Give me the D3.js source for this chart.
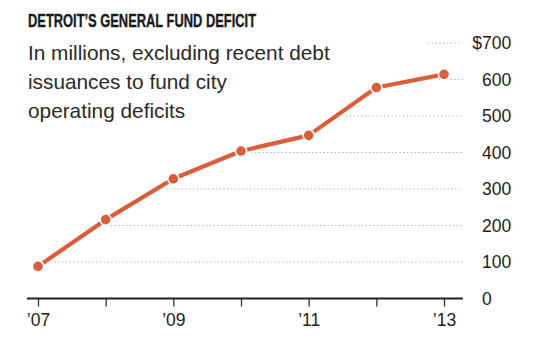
<!DOCTYPE html>
<html>
<head>
<meta charset="utf-8">
<script src="https://cdn.jsdelivr.net/npm/d3@7"></script>
<style>
  html, body { margin: 0; padding: 0; background: #fff; }
  svg { display: block; }
  text { font-family: "Liberation Sans", Arial, sans-serif; fill: #222; }
</style>
</head>
<body>
<svg id="chart" width="538" height="346"></svg>
<script>
// ---- data ----
const years = [2007, 2008, 2009, 2010, 2011, 2012, 2013];
const deficit = [88, 216, 328, 404, 447, 578, 614];
const yTicks = [0, 100, 200, 300, 400, 500, 600, 700];
const xLabelYears = [2007, 2009, 2011, 2013];
const title = "DETROIT’S GENERAL FUND DEFICIT";
const subtitle = ["In millions, excluding recent debt", "issuances to fund city", "operating deficits"];

const W = 538, H = 346;
const svg = d3.select("#chart");
const data = years.map((y, i) => ({ year: y, value: deficit[i] }));

const x = d3.scaleLinear().domain([2007, 2013]).range([38, 444]);
const y = d3.scaleLinear().domain([0, 700]).range([298.5, 43]);
const axisLeft = 27, axisRight = 463;
const orange = "#d95f3b";

// title
svg.append("text")
  .attr("x", 28).attr("y", 26.5)
  .attr("font-size", 17.8).attr("font-weight", "bold")
  .attr("textLength", 228).attr("lengthAdjust", "spacingAndGlyphs")
  .style("fill", "#1a1a1a").style("stroke", "#1a1a1a").style("stroke-width", 0.35)
  .text(title);

// subtitle
svg.append("g").selectAll("text").data(subtitle).join("text")
  .attr("x", 28).attr("y", (d, i) => 60 + i * 29)
  .attr("font-size", 20.8)
  .style("fill", "#2a2a2a")
  .text(d => d);

// gridlines start where the line passes (or at the left edge / near the end)
function crossX(v) {
  if (v <= data[0].value) return axisLeft;
  for (let i = 1; i < data.length; i++) {
    const a = data[i - 1], b = data[i];
    if (v >= a.value && v <= b.value) {
      const t = (v - a.value) / (b.value - a.value);
      return x(a.year + t * (b.year - a.year)) + 10;
    }
  }
  return x(years[years.length - 1]) - 16;
}
svg.append("g").selectAll("line").data(yTicks.filter(d => d > 0)).join("line")
  .attr("x1", d => crossX(d)).attr("x2", axisRight)
  .attr("y1", d => y(d)).attr("y2", d => y(d))
  .attr("stroke", "#a9a9a9").attr("stroke-width", 1.2)
  .attr("stroke-dasharray", "1.2,2.6");

// y labels
const yl = svg.append("g");
yl.selectAll("text").data(yTicks).join("text")
  .attr("x", 482).attr("y", d => y(d)).attr("dy", "0.36em")
  .attr("font-size", 17.5)
  .text(d => d);
yl.append("text")
  .attr("x", 482).attr("y", y(yTicks[yTicks.length - 1])).attr("dy", "0.36em")
  .attr("font-size", 17.5).attr("text-anchor", "end")
  .text("$");

// x axis
const xAxis = d3.axisBottom(x)
  .tickValues(years)
  .tickSize(8)
  .tickPadding(7)
  .tickFormat(d => xLabelYears.includes(d) ? "’" + String(d).slice(2) : "");
const gx = svg.append("g").attr("transform", `translate(0,${y(0)})`).call(xAxis);
gx.select(".domain").remove();
gx.selectAll(".tick line").attr("stroke", "#333").attr("stroke-width", 1.3);
gx.selectAll(".tick text").attr("font-size", 17.5).style("fill", "#222")
  .style("font-family", "'Liberation Sans', Arial, sans-serif");
gx.append("line").attr("x1", axisLeft).attr("x2", axisRight)
  .attr("y1", 0).attr("y2", 0).attr("stroke", "#222").attr("stroke-width", 2.2);

// line with white halo
const line = d3.line().x(d => x(d.year)).y(d => y(d.value));
svg.append("path").datum(data).attr("d", line)
  .attr("fill", "none").attr("stroke", "#fff").attr("stroke-width", 7.5)
  .attr("stroke-linejoin", "round");
svg.append("path").datum(data).attr("d", line)
  .attr("fill", "none").attr("stroke", orange).attr("stroke-width", 4.2)
  .attr("stroke-linejoin", "round");

svg.append("g").selectAll("circle").data(data).join("circle")
  .attr("cx", d => x(d.year)).attr("cy", d => y(d.value))
  .attr("r", 5.6)
  .attr("fill", orange).attr("stroke", "#fff").attr("stroke-width", 1.6);
</script>
</body>
</html>
